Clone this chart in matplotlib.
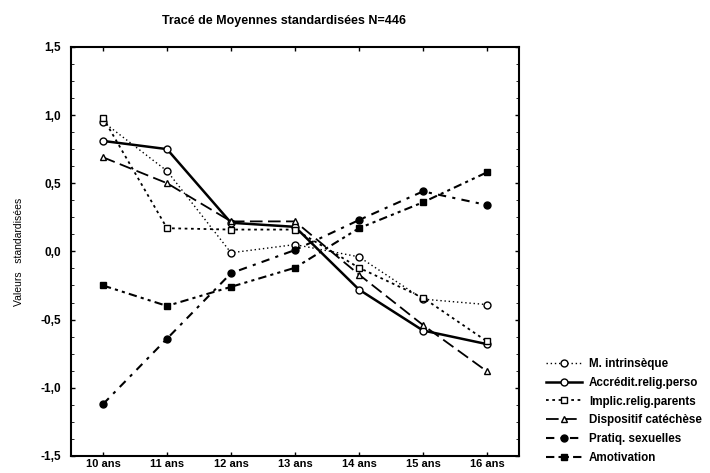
#!/usr/bin/env python3
"""Tracé de moyennes standardisées par âge (N=446)."""

import matplotlib
matplotlib.use("Agg")
import matplotlib.pyplot as plt
from matplotlib.ticker import MultipleLocator

ages = ["10 ans", "11 ans", "12 ans", "13 ans", "14 ans", "15 ans", "16 ans"]

m_intrinseque = [0.95, 0.59, -0.01, 0.05, -0.04, -0.35, -0.39]
accredit_relig = [0.81, 0.75, 0.21, 0.18, -0.28, -0.58, -0.68]
implic_parents = [0.98, 0.17, 0.16, 0.16, -0.12, -0.34, -0.66]
dispositif_catech = [0.69, 0.50, 0.22, 0.22, -0.17, -0.54, -0.88]
pratiq_sexuelles = [-1.12, -0.64, -0.16, 0.01, 0.23, 0.44, 0.34]
amotivation = [-0.25, -0.40, -0.26, -0.12, 0.17, 0.36, 0.58]

labels = [
    "M. intrinsèque",
    "Accrédit.relig.perso",
    "Implic.relig.parents",
    "Dispositif catéchèse",
    "Pratiq. sexuelles",
    "Amotivation",
]

plt.rcParams["font.family"] = ["Liberation Sans", "DejaVu Sans"]
plt.rcParams["font.weight"] = "bold"

fig = plt.figure(figsize=(7.1, 4.73), dpi=100)
ax = fig.add_axes([0.100, 0.036, 0.631, 0.865])

x = list(range(len(ages)))
styles = [
    (m_intrinseque, dict(ls=(0, (1, 2)), lw=1.0, marker="o", mfc="white", ms=5)),
    (accredit_relig, dict(ls="-", lw=1.8, marker="o", mfc="white", ms=5)),
    (implic_parents, dict(ls=(0, (1.5, 2)), lw=1.3, marker="s", mfc="white", ms=5)),
    (dispositif_catech, dict(ls=(0, (7, 3)), lw=1.3, marker="^", mfc="white", ms=5)),
    (pratiq_sexuelles, dict(ls=(0, (4, 3, 1.5, 3)), lw=1.5, marker="o", mfc="black", ms=5)),
    (amotivation, dict(ls=(0, (4, 2, 1.5, 2, 1.5, 2)), lw=1.5, marker="s", mfc="black", ms=5)),
]
for (vals, st), lab in zip(styles, labels):
    ax.plot(x, vals, color="black", mec="black", mew=1.0, label=lab, **st)

ax.set_xlim(-0.5, 6.5)
ax.set_ylim(-1.5, 1.5)
ax.set_xticks(x)
ax.set_xticklabels(ages, fontsize=8)
ax.set_yticks([-1.5, -1.0, -0.5, 0.0, 0.5, 1.0, 1.5])
ax.set_yticklabels(["-1,5", "-1,0", "-0,5", "0,0", "0,5", "1,0", "1,5"], fontsize=8.5)
ax.yaxis.set_minor_locator(MultipleLocator(0.125))
ax.tick_params(axis="both", direction="in", length=3, width=1.0,
               top=True, right=True)
ax.tick_params(axis="y", pad=7)
ax.tick_params(axis="x", pad=2)
ax.tick_params(axis="y", which="minor", direction="in", length=2, right=True)
for sp in ax.spines.values():
    sp.set_linewidth(1.5)

ax.set_ylabel("Valeurs   standardisées", fontsize=7.5, labelpad=12)
fig.text(0.40, 0.955, "Tracé de Moyennes standardisées N=446",
         ha="center", va="center", fontsize=9, fontweight="bold")

fig.legend(loc="upper left", bbox_to_anchor=(0.762, 0.253), frameon=False,
           fontsize=8.4, handlelength=3.1, handletextpad=0.6,
           labelspacing=0.58, borderaxespad=0)

fig.savefig("out.png", dpi=100)
